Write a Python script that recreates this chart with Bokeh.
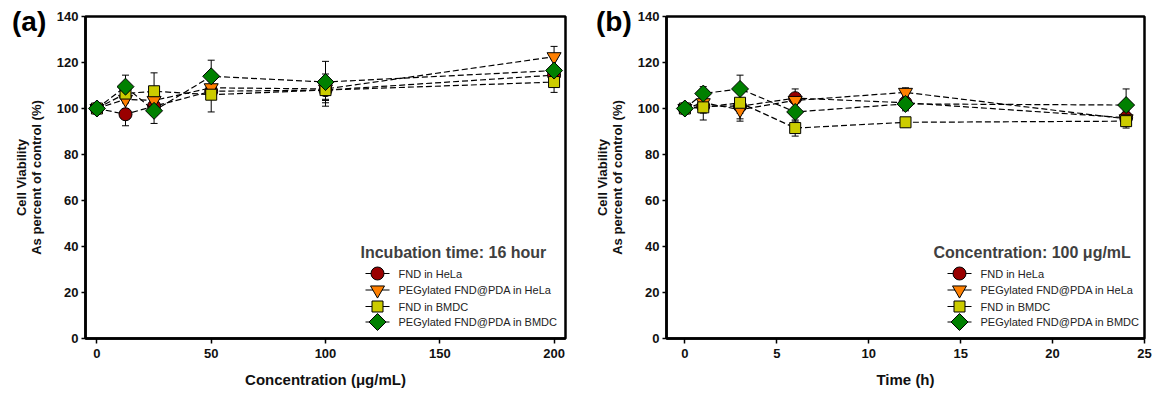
import numpy as np
from bokeh.plotting import figure
from bokeh.models import (ColumnDataSource, Whisker, TeeHead, FixedTicker, Range1d,
                          GridBox, Div)
from bokeh.core.properties import value
from bokeh.embed import file_html
from bokeh.resources import INLINE

# ---------------- data ----------------
series_names = ["FND in HeLa", "PEGylated FND@PDA in HeLa", "FND in BMDC", "PEGylated FND@PDA in BMDC"]

# panel (a): concentration series (16 h incubation)
conc = [0, 12.5, 25, 50, 100, 200]
a_fnd_hela = [100, 97.5, 101, 107.5, 108, 114.5]
a_peg_hela = [100, 104, 103.5, 109, 108.5, 122.5]
a_fnd_bmdc = [100, 106.5, 107.5, 106, 108, 111.5]
a_peg_bmdc = [100, 109.5, 99, 114, 111.5, 116.5]
a_err_fnd_hela = [1.5, 5, 4, 3, 4, 4]
a_err_peg_hela = [1.5, 4, 4, 3, 5, 4.5]
a_err_fnd_bmdc = [1.5, 4, 8, 7.5, 7, 4.5]
a_err_peg_bmdc = [1.5, 5, 5.5, 7, 9, 5]

# panel (b): time series (100 ug/mL)
time_h = [0, 1, 3, 6, 12, 24]
b_fnd_hela = [100, 101, 101, 104.5, 102.5, 96]
b_peg_hela = [100, 102.5, 99.5, 103.5, 107, 95.5]
b_fnd_bmdc = [100, 100.5, 102.5, 91.5, 94, 94.5]
b_peg_bmdc = [100, 106.5, 108.5, 98.5, 102, 101.5]
b_err_fnd_hela = [1.5, 3, 3, 4, 3, 3]
b_err_peg_hela = [1.5, 3, 5, 3, 2, 3]
b_err_fnd_bmdc = [1.5, 5.5, 7, 3.5, 2, 3]
b_err_peg_bmdc = [1.5, 3, 6, 4, 3, 7]

y_ticks = [0, 20, 40, 60, 80, 100, 120, 140]
a_ticks = [0, 50, 100, 150, 200]
b_ticks = [0, 5, 10, 15, 20, 25]

# ---------------- style ----------------
colors = ["#990000", "#FF8000", "#CCCC00", "#008000"]
markers = ["circle", "inverted_triangle", "square", "square"]
sizes = [13, 14, 11, 12]
angles = [0, 0, 0, np.pi / 4]
FONT = "Liberation Sans"
H = 393
TOP, BOTTOM = 16, 55
ROW_UP = [65, 48.5, 32, 16.5]      # legend rows, px above frame bottom
TITLE_UP = 86                      # legend title, px above frame bottom


def make_panel(x, ys, errs, xr, xticks, xlabel, legend_title, width, bl, br,
               title_off, text_off):
    p = figure(width=width, height=H, x_range=Range1d(*xr), y_range=Range1d(0, 140),
               output_backend="svg", toolbar_location=None,
               min_border_left=bl, min_border_right=br,
               min_border_top=TOP, min_border_bottom=BOTTOM)
    p.grid.visible = False
    p.outline_line_color = "black"
    p.outline_line_width = 2.5
    p.background_fill_color = "white"

    for ax in (p.xaxis[0], p.yaxis[0]):
        ax.axis_line_width = 2.5
        ax.axis_line_color = "black"
        ax.major_tick_line_width = 1.5
        ax.major_tick_in = 0
        ax.minor_tick_line_color = None
        ax.major_label_text_font = FONT
        ax.major_label_text_font_style = "bold"
        ax.major_label_text_font_size = "13px"
        ax.major_label_text_color = "#111111"
        ax.axis_label_text_font = FONT
        ax.axis_label_text_font_style = "bold"
        ax.axis_label_text_color = "#111111"

    p.xaxis.major_tick_out = 5
    p.xaxis.major_label_standoff = 5
    p.yaxis.major_tick_out = 4
    p.yaxis.major_label_standoff = 3
    p.xaxis.ticker = FixedTicker(ticks=xticks)
    p.yaxis.ticker = FixedTicker(ticks=y_ticks)
    p.xaxis.axis_label = xlabel
    p.xaxis.axis_label_text_font_size = "15px"
    p.xaxis.axis_label_standoff = 10
    p.yaxis.axis_label = "Cell Viability\nAs percent of control (%)"
    p.yaxis.axis_label_text_font_size = "13px"
    p.yaxis.axis_label_text_line_height = 1.0
    p.yaxis.axis_label_standoff = 10

    frame_w = width - bl - br
    ppu_x = frame_w / (xr[1] - xr[0])
    ppu_y = (H - TOP - BOTTOM) / 140.0

    def dx(px):
        return xr[1] + px / ppu_x

    def dy(px):
        return px / ppu_y

    for i, (name, yv, ev, c, m, s, a) in enumerate(zip(series_names, ys, errs, colors,
                                                         markers, sizes, angles)):
        yv = np.array(yv, dtype=float)
        ev = np.array(ev, dtype=float)
        src = ColumnDataSource(dict(x=x, y=yv, upper=yv + ev, lower=yv - ev))
        w = Whisker(base="x", upper="upper", lower="lower", source=src,
                    line_color="black", line_width=1,
                    upper_head=TeeHead(size=7, line_color="black", line_width=1),
                    lower_head=TeeHead(size=7, line_color="black", line_width=1))
        w.level = "underlay"
        p.add_layout(w)
        p.line("x", "y", source=src, line_color="black", line_width=1.2, line_dash="6 3")
        p.scatter("x", "y", source=src, marker=m, size=s, angle=a,
                  fill_color=c, line_color="black", line_width=1)

        # manual legend entry
        ry = dy(ROW_UP[i])
        p.segment(x0=[dx(text_off - 33)], y0=[ry], x1=[dx(text_off - 9)], y1=[ry],
                  line_color="black", line_width=1.2)
        p.scatter(x=[dx(text_off - 21)], y=[ry], marker=m, size=s, angle=a,
                  fill_color=c, line_color="black", line_width=1)
        p.text(x=[dx(text_off)], y=[ry], text=[name], text_font=value(FONT),
               text_font_size="11px", text_color="#222222",
               text_align="left", text_baseline="middle")

    p.text(x=[dx(title_off)], y=[dy(TITLE_UP)], text=[legend_title], text_font=value(FONT),
           text_font_size="16px", text_font_style="bold", text_color="#404040",
           text_align="left", text_baseline="middle")
    return p


pa = make_panel(conc, [a_fnd_hela, a_peg_hela, a_fnd_bmdc, a_peg_bmdc],
                [a_err_fnd_hela, a_err_peg_hela, a_err_fnd_bmdc, a_err_peg_bmdc],
                (-5, 205), a_ticks, "Concentration (\u03bcg/mL)", "Incubation time: 16 hour",
                590, 85, 25, -205, -167)
pb = make_panel(time_h, [b_fnd_hela, b_peg_hela, b_fnd_bmdc, b_peg_bmdc],
                [b_err_fnd_hela, b_err_peg_hela, b_err_fnd_bmdc, b_err_peg_bmdc],
                (-1, 25), b_ticks, "Time (h)", "Concentration: 100 \u03bcg/mL",
                570, 76, 16, -211, -164)


def panel_div(txt, left):
    return Div(text=txt, width=56, height=38, margin=(6, 0, 0, left),
               styles={"font-family": FONT, "font-size": "28px", "font-weight": "bold",
                       "color": "black", "line-height": "1.15"})


div_a = panel_div("(a)", 12)
div_b = panel_div("(b)", 6)

layout = GridBox(children=[(pa, 0, 0), (div_a, 0, 0), (pb, 0, 1), (div_b, 0, 1)],
                 spacing=0)
open("out.html", "w").write(file_html(layout, INLINE))
